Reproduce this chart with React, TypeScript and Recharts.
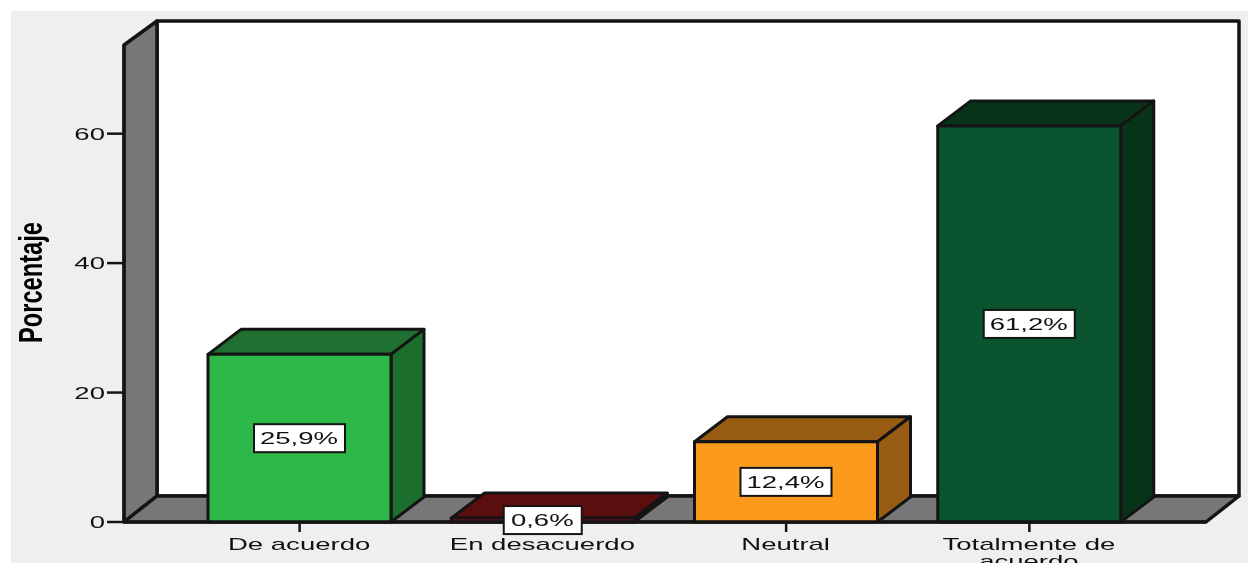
import { BarChart, Bar, XAxis, YAxis, ReferenceArea, LabelList } from 'recharts'

const categories = ['De acuerdo', 'En desacuerdo', 'Neutral', 'Totalmente de acuerdo']
const percentages = [25.9, 0.6, 12.4, 61.2]
const yTicks = [0, 20, 40, 60]
const data = categories.map((name, i) => ({ name, value: percentages[i] }))

const frontColors = ['#2fb84a', '#8e1414', '#fb9a1c', '#0a5530']
const sideColors = ['#1c6e2d', '#3f0909', '#985c12', '#073319']
const topColors = ['#1f7030', '#5a0e0e', '#985c12', '#073319']

const DEPTH_X = 33
const DEPTH_Y = 25
const PAD_LEFT = 54
const PAD_RIGHT = 55
const LINE = '#141414'
const TEXT = '#111'
const FONT = '"Liberation Sans", Arial, sans-serif'
const STRETCH = 1.62

// the reference area only spans the padded band range, so widen it back to the whole floor
function Walls({ x: bandX, y, width: bandWidth, height }: any) {
  const x = bandX - PAD_LEFT
  const width = bandWidth + PAD_LEFT + PAD_RIGHT
  const bottom = y + height
  const right = x + width
  return (
    <g stroke={LINE} strokeWidth={3.5} strokeLinejoin="round">
      <rect x={x + DEPTH_X} y={y - DEPTH_Y + 1} width={width} height={height - 2} fill="#fff" />
      <polygon
        points={`${x},${y} ${x + DEPTH_X},${y - DEPTH_Y + 1} ${x + DEPTH_X},${bottom - DEPTH_Y - 1} ${x},${bottom}`}
        fill="#777"
      />
      <polygon
        points={`${x},${bottom} ${x + DEPTH_X},${bottom - DEPTH_Y - 1} ${right + DEPTH_X},${bottom - DEPTH_Y - 1} ${right},${bottom}`}
        fill="#777"
      />
    </g>
  )
}

function Bar3D({ x, y, width, height, index }: any) {
  return (
    <g stroke={LINE} strokeWidth={3} strokeLinejoin="round">
      <polygon
        points={`${x},${y} ${x + DEPTH_X},${y - DEPTH_Y} ${x + width + DEPTH_X},${y - DEPTH_Y} ${x + width},${y}`}
        fill={topColors[index]}
      />
      <polygon
        points={`${x + width},${y} ${x + width + DEPTH_X},${y - DEPTH_Y} ${x + width + DEPTH_X},${y + height - DEPTH_Y} ${x + width},${y + height}`}
        fill={sideColors[index]}
      />
      <rect x={x} y={y} width={width} height={height} fill={frontColors[index]} />
    </g>
  )
}

function ValueBox({ x, y, width, height, value }: any) {
  const text = String(value).replace('.', ',') + '%'
  const cx = x + width / 2
  const cy = y + height / 2
  const boxWidth = text.length * 13 + 26
  return (
    <g>
      <rect x={cx - boxWidth / 2} y={cy - 14} width={boxWidth} height={28} fill="#fff" stroke={LINE} strokeWidth={2} />
      <text
        transform={`translate(${cx - 0.5},${cy + 6}) scale(${STRETCH},1)`}
        textAnchor="middle"
        fontFamily={FONT}
        fontSize={17}
        fill={TEXT}
      >
        {text}
      </text>
    </g>
  )
}

function CategoryTick({ x, y, payload }: any) {
  const words = String(payload.value).split(' ')
  const lines = words.length > 2 ? [words.slice(0, -1).join(' '), words[words.length - 1]] : [payload.value]
  return (
    <g>
      {lines.map((line: string, i: number) => (
        <text
          key={line}
          transform={`translate(${x - 0.5},${y + 18 + i * 17}) scale(${STRETCH},1)`}
          textAnchor="middle"
          fontFamily={FONT}
          fontSize={17}
          fill={TEXT}
        >
          {line}
        </text>
      ))}
    </g>
  )
}

function ValueTick({ x, y, payload }: any) {
  return (
    <text
      transform={`translate(${x + 1},${y + 6}) scale(${STRETCH},1)`}
      textAnchor="end"
      fontFamily={FONT}
      fontSize={17}
      fill={TEXT}
    >
      {payload.value}
    </text>
  )
}

function AxisTitle() {
  return (
    <text
      transform="translate(42,343) rotate(-90)"
      fontFamily='"Liberation Sans Narrow", "Liberation Sans", sans-serif'
      fontWeight="bold"
      fontSize={33}
      textLength={121}
      lengthAdjust="spacingAndGlyphs"
      fill="#000"
    >
      Porcentaje
    </text>
  )
}

export default function App() {
  return (
    <div style={{ position: 'absolute', left: 0, top: 0, width: 1248, height: 563, background: '#fff', overflow: 'hidden' }}>
      <div style={{ position: 'absolute', left: 11, top: 11, right: 0, bottom: 0, background: '#efefef' }} />
      <div style={{ position: 'absolute', left: 0, top: 0, filter: 'blur(0.6px)' }}>
        <BarChart
          width={1248}
          height={563}
          data={data}
          barSize={183}
          margin={{ top: 45, right: 42, bottom: 0, left: 60 }}
        >
          <XAxis
            dataKey="name"
            height={41}
            padding={{ left: PAD_LEFT, right: PAD_RIGHT }}
            interval={0}
            tick={<CategoryTick />}
            tickSize={10}
            tickMargin={0}
            axisLine={{ stroke: LINE, strokeWidth: 3 }}
            tickLine={{ stroke: LINE, strokeWidth: 2.5 }}
          />
          <YAxis
            width={64}
            domain={[0, 73.7]}
            ticks={yTicks}
            tick={<ValueTick />}
            tickSize={17}
            tickMargin={3}
            axisLine={{ stroke: LINE, strokeWidth: 3 }}
            tickLine={{ stroke: LINE, strokeWidth: 2.5 }}
          />
          <ReferenceArea y1={0} y2={73.7} shape={<Walls />} ifOverflow="visible" />
          <Bar dataKey="value" isAnimationActive={false} shape={<Bar3D />}>
            <LabelList dataKey="value" content={<ValueBox />} />
          </Bar>
          <AxisTitle />
        </BarChart>
      </div>
    </div>
  )
}
